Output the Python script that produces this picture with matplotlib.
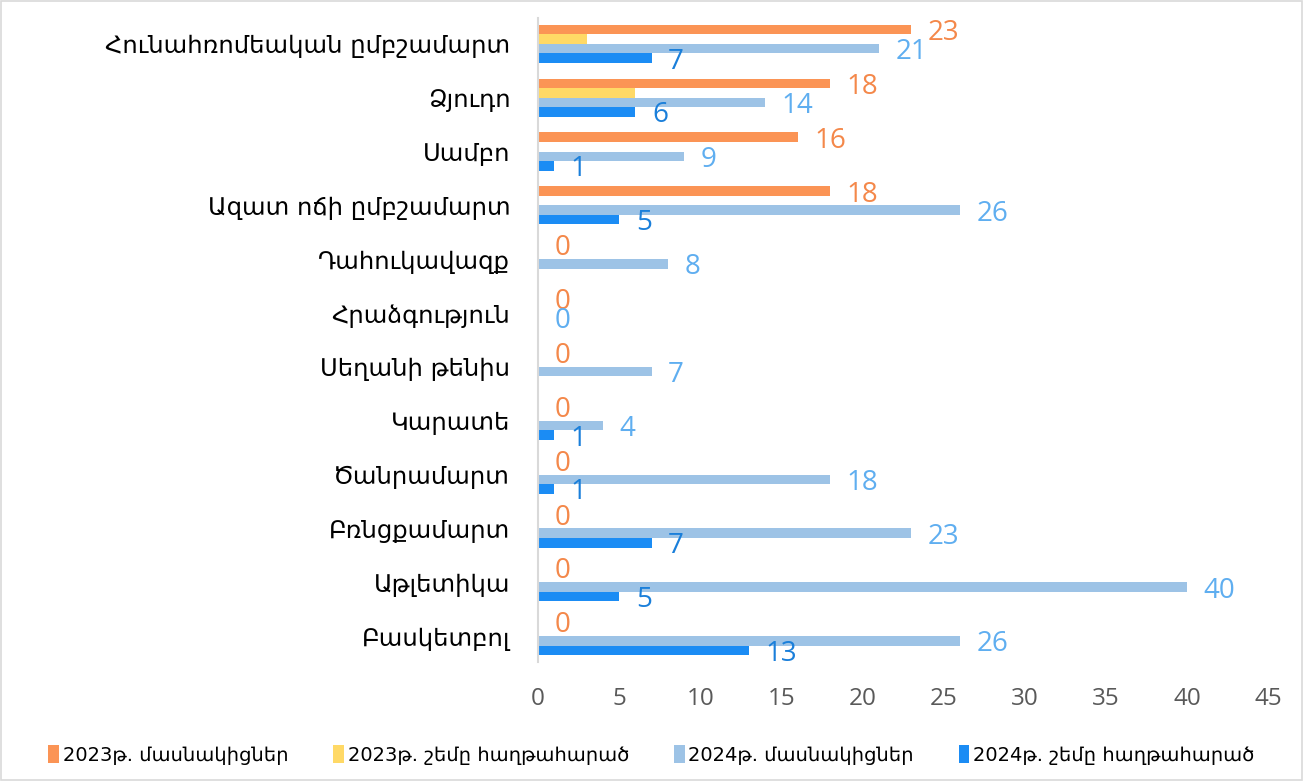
import numpy as np
import matplotlib
matplotlib.use("Agg")
import matplotlib.pyplot as plt
from matplotlib.patches import Rectangle

categories = ["Բասկետբոլ", "Աթլետիկա", "Բռնցքամարտ", "Ծանրամարտ", "Կարատե",
              "Սեղանի թենիս", "Հրաձգություն", "Դահուկավազք",
              "Ազատ ոճի ըմբշամարտ", "Սամբո", "Ձյուդո", "Հունահռոմեական ըմբշամարտ"]
series_names = ["2023թ. մասնակիցներ", "2023թ. շեմը հաղթահարած",
                "2024թ. մասնակիցներ", "2024թ. շեմը հաղթահարած"]
part_2023 = [0, 0, 0, 0, 0, 0, 0, 0, 18, 16, 18, 23]
prize_2023 = [None, None, None, None, None, None, None, None, None, None, 6, 3]
part_2024 = [26, 40, 23, 18, 4, 7, 0, 8, 26, 9, 14, 21]
prize_2024 = [13, 5, 7, 1, 1, None, None, None, 5, 1, 6, 7]

bar_colors = ["#FB9455", "#FFD966", "#9DC3E6", "#1B8CF4"]
label_colors = ["#F4884A", None, "#5FAEF0", "#1A7FDA"]

fig = plt.figure(figsize=(13.03, 7.81), dpi=100)
ax = fig.add_axes([538/1303, 1-662/781, 730/1303, 644/781])

data = [part_2023, prize_2023, part_2024, prize_2024]
y = np.arange(len(categories))
bh = 0.177
offsets = [1.5*bh, 0.5*bh, -0.5*bh, -1.5*bh]
for k, (vals, col, lc) in enumerate(zip(data, bar_colors, label_colors)):
    v = np.array([np.nan if x is None else x for x in vals], dtype=float)
    ax.barh(y + offsets[k], np.nan_to_num(v), height=bh, color=col,
            label=series_names[k])
    if lc is not None:
        for yi, val in zip(y, v):
            if np.isnan(val):
                continue
            ax.annotate(f"{int(val)}", (val, yi + offsets[k]), xytext=(12, -2.5),
                        textcoords="offset points", ha="left", va="center",
                        fontsize=20, color=lc, family=["Open Sans", "DejaVu Sans"])

ax.set_xlim(0, 45)
ax.set_ylim(-0.48, 11.48)
ax.set_xticks(np.arange(0, 46, 5))
ax.set_yticks(y)
ax.set_yticklabels(categories, fontsize=17.5, color="black", family=["DejaVu Sans"])
ax.tick_params(axis="y", length=0, pad=20)
ax.tick_params(axis="x", length=0, pad=18, labelsize=17.5, labelcolor="#595959")
for lab in ax.get_xticklabels():
    lab.set_family(["Open Sans", "DejaVu Sans"])
for s in ["top", "right", "bottom"]:
    ax.spines[s].set_visible(False)
ax.spines["left"].set_color("#D9D9D9")
ax.spines["left"].set_linewidth(1.5)

fig.legend(loc="center", bbox_to_anchor=(0.5, 1-755/781), ncol=4,
           frameon=False, handlelength=0.55, handleheight=1.0,
           handletextpad=0.2, columnspacing=2.3,
           prop={"family": ["Liberation Sans Narrow", "DejaVu Sans"], "size": 14})

fig.patches.append(Rectangle((0.001, 0.001), 0.998, 0.998, transform=fig.transFigure,
                             fill=False, edgecolor="#D9D9D9", linewidth=1.2))
fig.savefig("out.png", dpi=100)
